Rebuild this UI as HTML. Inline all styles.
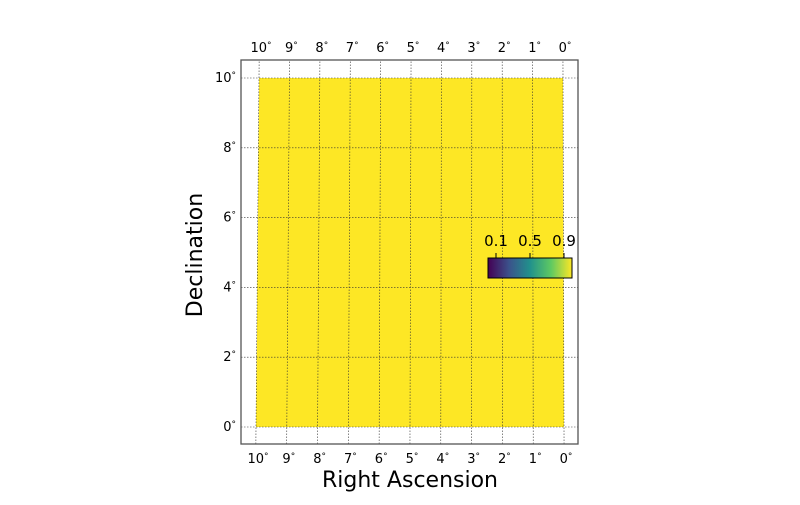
<!DOCTYPE html>
<html><head><meta charset="utf-8"><style>
body{margin:0;background:#fff}
svg text{font-family:"DejaVu Sans","Liberation Sans",sans-serif;fill:#000}
</style></head><body>
<svg id="chart" width="800" height="500" xmlns="http://www.w3.org/2000/svg">
<g id="plot"></g>
</svg>
<script>
const raTicks=[10,9,8,7,6,5,4,3,2,1,0];
const decTicks=[0,2,4,6,8,10];
const cbTicks=[0.1,0.5,0.9];
const region={raMin:0,raMax:10,decMin:0,decMax:10};
function yDec(d){return 427-d*34.9;}
function xRA(ra,dec){const xb=564-ra*30.8, xt=563-ra*30.4; return xb+(xt-xb)*dec/10;}
const NS='http://www.w3.org/2000/svg';
const g=document.getElementById('plot');
function el(t,a,p){const e=document.createElementNS(NS,t);for(const k in a)e.setAttribute(k,a[k]);(p||g).appendChild(e);return e;}
const poly=el('polygon',{points:[[region.raMax,region.decMin],[region.raMin,region.decMin],[region.raMin,region.decMax],[region.raMax,region.decMax]].map(p=>xRA(p[0],p[1])+','+yDec(p[1])).join(' '),fill:'#fde725'});


decTicks.forEach(d=>{const l=el('line',{x1:241,x2:578,y1:yDec(d),y2:yDec(d),stroke:'#333','stroke-width':0.6,'stroke-dasharray':'1.5,1.5'});

});
raTicks.forEach(r=>{const dTop=(427-60)/34.9, dBot=(427-444)/34.9;
const l=el('line',{x1:xRA(r,dBot),y1:444,x2:xRA(r,dTop),y2:60,stroke:'#333','stroke-width':0.6,'stroke-dasharray':'1.5,1.5'});

});
const fr=el('rect',{x:241,y:60,width:337,height:384,fill:'none',stroke:'#555','stroke-width':1.3});


function lab(x,y,txt,anchor,name){const t=el('text',{x:x,y:y,'font-size':13,'text-anchor':anchor});t.textContent=txt;
const s=el('tspan',{'font-size':9,dy:-4},t);s.textContent='°';

}
raTicks.forEach(r=>{lab(xRA(r,0)+2,463,String(r),'middle','ra-tick-label-bottom');lab(xRA(r,10)+2,52,String(r),'middle','ra-tick-label-top');});
decTicks.forEach(d=>{lab(236,yDec(d)+4,String(d),'end','dec-tick-label');});
const xt=el('text',{x:410,y:487,'font-size':22,'text-anchor':'middle'});xt.textContent='Right Ascension';


const yt=el('text',{x:0,y:0,'font-size':22,'text-anchor':'middle',transform:'translate(202,255) rotate(-90)'});yt.textContent='Declination';


const defs=el('defs',{});
const lg=el('linearGradient',{id:'vir',x1:0,x2:1,y1:0,y2:0},defs);
[['0','#440154'],['0.25','#3b528b'],['0.5','#21918c'],['0.75','#5ec962'],['1','#fde725']].forEach(s=>el('stop',{offset:s[0],'stop-color':s[1]},lg));
const cb=el('rect',{x:488,y:258,width:84,height:20,fill:'url(#vir)',stroke:'#000','stroke-width':1});


cbTicks.forEach(v=>{const x=488+8+(v-0.1)/0.8*68;
const l=el('line',{x1:x,x2:x,y1:258,y2:253,stroke:'#000','stroke-width':1});


const t=el('text',{x:x,y:246,'font-size':15,'text-anchor':'middle'});t.textContent=String(v);

});
</script>
</body></html>
